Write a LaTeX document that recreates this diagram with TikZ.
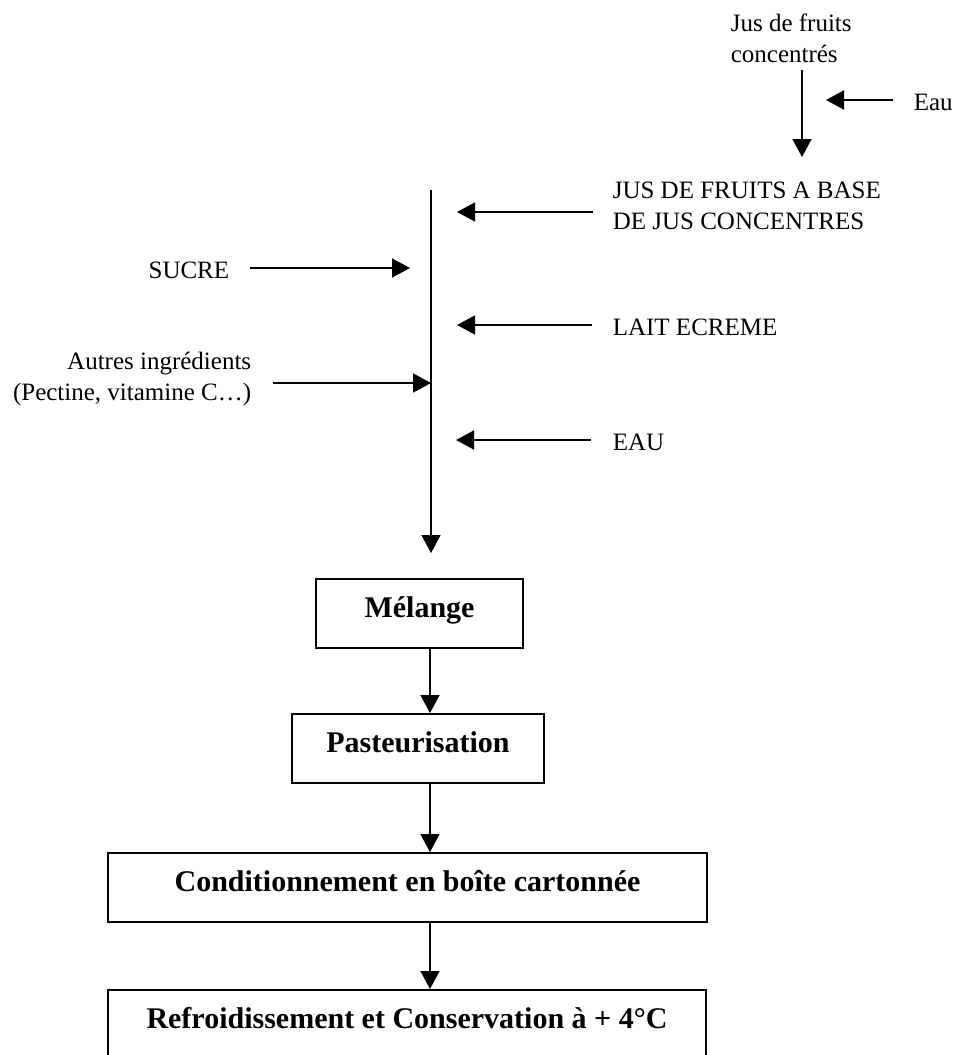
\documentclass[tikz,border=0pt]{standalone}
\usepackage{fontspec}
\setmainfont{Liberation Serif}
\usetikzlibrary{arrows.meta}
\begin{document}
\begin{tikzpicture}[x=1pt,y=-1pt,
  line width=1.6pt,
  arr/.style={-{Triangle[length=18pt,width=19pt]}},
  lbl/.style={inner sep=0pt, font=\fontsize{25}{31}\selectfont},
  stage/.style={draw, anchor=north, inner xsep=0pt, inner ysep=0pt,
    text height=39pt, text depth=30pt,
    font=\fontsize{30}{36}\selectfont\bfseries},
]
\useasboundingbox (0,0) rectangle (954,1055);

% ingredient labels
\node[lbl, anchor=north west, align=left] (jfc) at (730,12.9) {Jus de fruits\\concentrés};
\node[lbl, anchor=base west] (eau1) at (913,110) {Eau};
\node[lbl, anchor=north west, align=left] (jus) at (612,181.4) {JUS DE FRUITS A BASE\\DE JUS CONCENTRES};
\node[lbl, anchor=base east] (sucre) at (230,278) {SUCRE};
\node[lbl, anchor=base west] (lait) at (612,335) {LAIT ECREME};
\node[lbl, anchor=north east, align=right] (autres) at (252,351) {Autres ingrédients\\(Pectine, vitamine C…)};
\node[lbl, anchor=base west] (eau2) at (612,450) {EAU};

% arrow ends
\coordinate (jfctip) at (802,157);
\coordinate (eau1tip) at (826,100);
\coordinate (mtop) at (431,190);
\coordinate (mtip) at (431,553);
\coordinate (justip) at (457,212);
\coordinate (sucretip) at (410,268);
\coordinate (laittip) at (457,325);
\coordinate (autrestip) at (431,383);
\coordinate (eau2tip) at (456,440);
\coordinate (axis) at (430,0);

% process stages
\node[stage, minimum width=207pt] (mel) at (419.5,578) {Mélange};
\node[stage, minimum width=252pt] (past) at (418,713) {Pasteurisation};
\node[stage, minimum width=599pt] (cond) at (407.5,852) {Conditionnement en boîte cartonnée};
\node[stage, minimum width=598pt] (refr) at (407,989) {Refroidissement et Conservation à + 4°C};

% reconstitution of the juice
\draw[arr, shorten <=7pt] (jfc.south -| jfctip) -- (jfctip);
\draw[arr, shorten <=20pt] (eau1.west |- eau1tip) -- (eau1tip);

% main mixing line and its inputs
\draw[arr] (mtop) -- (mtip);
\draw[arr, shorten <=19pt] (jus.west |- justip) -- (justip);
\draw[arr, shorten <=20pt] (sucre.east |- sucretip) -- (sucretip);
\draw[arr, shorten <=20pt] (lait.west |- laittip) -- (laittip);
\draw[arr, shorten <=21pt] (autres.east |- autrestip) -- (autrestip);
\draw[arr, shorten <=21pt] (eau2.west |- eau2tip) -- (eau2tip);

% stage to stage
\draw[arr] (mel.south -| axis) -- (past.north -| axis);
\draw[arr] (past.south -| axis) -- (cond.north -| axis);
\draw[arr] (cond.south -| axis) -- (refr.north -| axis);
\end{tikzpicture}
\end{document}
